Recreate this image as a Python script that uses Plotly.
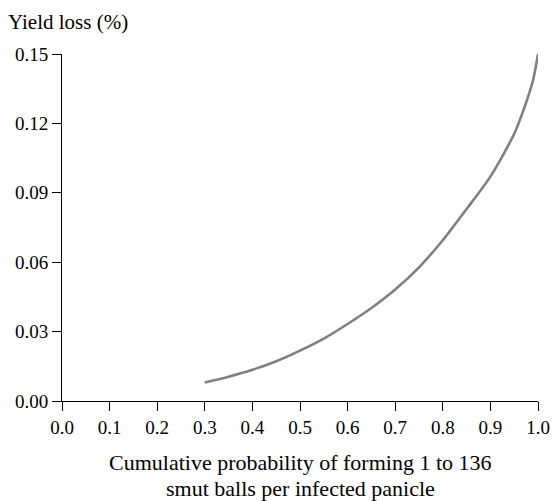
import plotly.graph_objects as go

prob = [0.30, 0.35, 0.40, 0.45, 0.50, 0.55, 0.60, 0.65, 0.70, 0.75, 0.80, 0.85, 0.90, 0.95, 0.975, 0.99, 1.00]
loss = [0.0080, 0.0105, 0.0135, 0.0172, 0.0218, 0.0270, 0.0333, 0.0402, 0.0482, 0.0578, 0.0695, 0.0830, 0.0970, 0.1155, 0.1290, 0.1390, 0.1500]

x_ticks = [0.0, 0.1, 0.2, 0.3, 0.4, 0.5, 0.6, 0.7, 0.8, 0.9, 1.0]
y_ticks = [0.00, 0.03, 0.06, 0.09, 0.12, 0.15]

x_title_lines = ["Cumulative probability of forming 1 to 136", "smut balls per infected panicle"]
y_title = "Yield loss (%)"

FONT = "Liberation Serif"

W, HT = 554, 501
L, R, T, B = 62, 16, 54, 100
H = HT - T - B
base = HT - B  # y pixel of the x axis

fig = go.Figure(go.Scatter(
    x=prob, y=loss, mode="lines",
    line=dict(color="#808080", width=2.6, shape="spline", smoothing=0.7),
    cliponaxis=False, showlegend=False, hoverinfo="skip",
))

fig.update_layout(
    width=W, height=HT,
    margin=dict(l=L, r=R, t=T, b=B),
    paper_bgcolor="white", plot_bgcolor="white",
    font=dict(family=FONT, color="black", size=19),
    title=dict(text=y_title, x=8 / W, xanchor="left", xref="container",
               y=1 - 22 / HT, yanchor="middle", yref="container",
               font=dict(family=FONT, size=21, color="black")),
)
for txt, yc in zip(x_title_lines, [462, 488]):
    fig.add_annotation(text=txt, xref="paper", yref="paper", x=0.5, xanchor="center",
                       y=(base - yc) / H, yanchor="middle", showarrow=False,
                       font=dict(family=FONT, size=22, color="black"))

fig.update_xaxes(
    range=[0, 1], tickvals=x_ticks, ticktext=[f"{v:.1f}" for v in x_ticks],
    showline=True, linecolor="black", linewidth=1,
    ticks="outside", ticklen=9, tickcolor="black", tickwidth=1,
    showgrid=False, zeroline=False, automargin=False,
    tickfont=dict(family=FONT, size=19),
)
fig.update_yaxes(
    range=[0, 0.15], tickvals=y_ticks, ticktext=[f"{v:.2f}" for v in y_ticks],
    showline=True, linecolor="black", linewidth=1,
    ticks="outside", ticklen=9, tickcolor="black", tickwidth=1,
    showgrid=False, zeroline=False, automargin=False,
    tickfont=dict(family=FONT, size=19),
)

fig.write_html(
    "out.html",
    config={"displayModeBar": False},
    post_script="document.body.style.margin='0';document.body.style.overflow='hidden';",
)
